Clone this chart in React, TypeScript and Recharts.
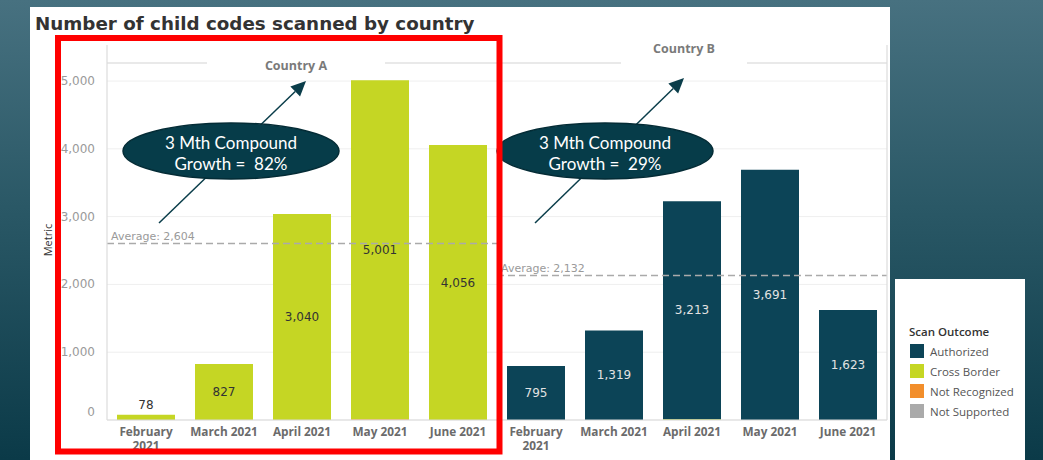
import React from 'react';
import { BarChart, Bar, XAxis, YAxis, CartesianGrid, ReferenceLine, LabelList } from 'recharts';

// ---------- data ----------
const months = ['February 2021', 'March 2021', 'April 2021', 'May 2021', 'June 2021'];
const seriesNames = ['Authorized', 'Cross Border', 'Not Recognized', 'Not Supported'];
const seriesColors = ['#0c4457', '#c5d624', '#f28e2b', '#aaaaaa'];

const countryAAuthorized = [0, 0, 0, 0, 0];
const countryACrossBorder = [78, 827, 3040, 5001, 4056];
const countryANotRecognized = [0, 0, 0, 12, 0];
const countryANotSupported = [0, 0, 0, 0, 0];

const countryBAuthorized = [795, 1319, 3213, 3691, 1623];
const countryBCrossBorder = [0, 0, 12, 0, 0];
const countryBNotRecognized = [0, 0, 0, 0, 0];
const countryBNotSupported = [0, 0, 0, 0, 0];

const countryAAverage = 2604;
const countryBAverage = 2132;
const yTicks = [0, 1000, 2000, 3000, 4000, 5000];
const yMax = 5266;

const facetNames = ['Country A', 'Country B'];
const growthA = '82%';
const growthB = '29%';

const buildRows = (a: number[], c: number[], r: number[], s: number[]) =>
  months.map((m, i) => ({
    month: m,
    'Authorized': a[i],
    'Cross Border': c[i],
    'Not Recognized': r[i],
    'Not Supported': s[i],
  }));

const dataA = buildRows(countryAAuthorized, countryACrossBorder, countryANotRecognized, countryANotSupported);
const dataB = buildRows(countryBAuthorized, countryBCrossBorder, countryBNotRecognized, countryBNotSupported);

// stacking order bottom -> top
const stackOrder = [3, 2, 1, 0];

// ---------- renderers ----------
const makeValueLabel = (fill: string) => (props: any) => {
  const { x, y, width, height, value } = props;
  if (!value) return null;
  const small = height < 22;
  const cx = x + width / 2;
  const cy = small ? y - 10 : y + height / 2;
  return (
    <text x={cx} y={cy} textAnchor="middle" dominantBaseline="central" fontSize={12}
      fontFamily="DejaVu Sans" fill={fill}>
      {Number(value).toLocaleString('en-US')}
    </text>
  );
};

const MonthTick = (props: any) => {
  const { x, y, payload } = props;
  const text: string = payload.value;
  const lines = text.length > 12 ? text.split(' ') : [text];
  return (
    <g>
      {lines.map((l, i) => (
        <text key={i} x={x} y={y + 10 + i * 14} textAnchor="middle" fontFamily="Open Sans" fontWeight={700}
          fontSize={11.8} fill="#6b6b6b">{l}</text>
      ))}
    </g>
  );
};

const YTick = (props: any) => {
  const { x, y, payload } = props;
  const v = payload.value as number;
  return (
    <text x={x} y={v === 0 ? y - 8 : y} textAnchor="end" dominantBaseline="central" fontFamily="DejaVu Sans"
      fontSize={12} fill="#9a9a9a">
      {v.toLocaleString('en-US')}
    </text>
  );
};

const AvgLabel = (text: string, lift: number) => (props: any) => {
  const { viewBox } = props;
  return (
    <text x={viewBox.x + 4} y={viewBox.y - lift} fontFamily="DejaVu Sans" fontSize={11} fill="#9a9a9a">
      {text}
    </text>
  );
};

const Facet = ({ data, labelSeries, labelColor, avg, showY, width, margin }: any) => (
  <BarChart width={width} height={460} data={data} margin={margin} barSize={58}>
    <CartesianGrid horizontal vertical={false} stroke="#efefef" />
    <XAxis dataKey="month" height={30} interval={0} tick={<MonthTick />} axisLine={{ stroke: '#d9d9d9' }}
      tickLine={false} tickMargin={0} />
    <YAxis type="number" width={showY ? 50 : 0} hide={!showY} domain={[0, yMax]} ticks={yTicks}
      tick={<YTick />} axisLine={false} tickLine={false} tickMargin={6} allowDataOverflow />
    {stackOrder.map((si) => (
      <Bar key={seriesNames[si]} dataKey={seriesNames[si]} stackId="s" fill={seriesColors[si]}
        isAnimationActive={false}>
        {seriesNames[si] === labelSeries && (
          <LabelList dataKey={seriesNames[si]} content={makeValueLabel(labelColor)} />
        )}
      </Bar>
    ))}
    <ReferenceLine y={avg} stroke="#aaaaaa" strokeWidth={1.5} strokeDasharray="7 4"
      label={AvgLabel(`Average: ${avg.toLocaleString('en-US')}`, 3.5)} />
  </BarChart>
);

const Arrow = ({ x1, y1, x2, y2 }: any) => {
  const ang = Math.atan2(y2 - y1, x2 - x1);
  const L = 15, W = 7;
  const bx = x2 - L * Math.cos(ang), by = y2 - L * Math.sin(ang);
  const px = -Math.sin(ang) * W, py = Math.cos(ang) * W;
  return (
    <g>
      <line x1={x1} y1={y1} x2={bx} y2={by} stroke="#0a3d4a" strokeWidth={1.5} />
      <polygon points={`${x2},${y2} ${bx + px},${by + py} ${bx - px},${by - py}`} fill="#0a3d4a" />
    </g>
  );
};

const Callout = ({ cx, cy, growth }: any) => (
  <g>
    <ellipse cx={cx} cy={cy} rx={108} ry={28} fill="#063c49" stroke="#042c36" strokeWidth={1.5} />
    <text x={cx} y={cy - 9} textAnchor="middle" dominantBaseline="central" fontFamily="Lato" fontSize={17} fill="#ffffff">
      3 Mth Compound
    </text>
    <text x={cx} y={cy + 12} textAnchor="middle" dominantBaseline="central" fontFamily="Lato" fontSize={17} fill="#ffffff"
      style={{ whiteSpace: 'pre' }}>
      {`Growth =  ${growth}`}
    </text>
  </g>
);

export default function App() {
  return (
    <div style={{
      position: 'absolute', left: 0, top: 0, width: 1043, height: 460, overflow: 'hidden',
      background: 'linear-gradient(180deg, #477180 0%, #2a5866 45%, #0b3a48 100%)',
    }}>
      {/* white panel */}
      <div style={{ position: 'absolute', left: 30, top: 7, width: 860, height: 453, background: '#ffffff' }} />
      <div style={{
        position: 'absolute', left: 35, top: 12, fontFamily: 'DejaVu Sans', fontWeight: 700, fontSize: 18.3,
        color: '#333333', lineHeight: '24px', whiteSpace: 'nowrap',
      }}>
        Number of child codes scanned by country
      </div>

      <div style={{ position: 'absolute', left: 0, top: 0 }}>
        <Facet data={dataA} labelSeries="Cross Border" labelColor="#333333" avg={countryAAverage} showY
          width={497} margin={{ top: 63, right: 0, bottom: 10, left: 57 }} />
      </div>
      <div style={{ position: 'absolute', left: 497, top: 0 }}>
        <Facet data={dataB} labelSeries="Authorized" labelColor="#e2e2e2" avg={countryBAverage} showY={false}
          width={390} margin={{ top: 63, right: 0, bottom: 10, left: 0 }} />
      </div>

      {/* legend */}
      <div style={{ position: 'absolute', left: 895, top: 279, width: 130, height: 181, background: '#ffffff' }}>
        <div style={{
          position: 'absolute', left: 14, top: 45, fontFamily: 'Open Sans', fontWeight: 600, fontSize: 11.5,
          color: '#333333', whiteSpace: 'nowrap',
        }}>Scan Outcome</div>
        {seriesNames.map((n, i) => (
          <div key={n} style={{ position: 'absolute', left: 15, top: 65 + i * 20, height: 14, display: 'flex', alignItems: 'center' }}>
            <div style={{ width: 14, height: 14, background: seriesColors[i] }} />
            <span style={{
              marginLeft: 6, fontFamily: 'Open Sans', fontSize: 11.5, color: '#555555', whiteSpace: 'nowrap',
            }}>{n}</span>
          </div>
        ))}
      </div>

      {/* overlay annotations */}
      <svg width={1043} height={460} style={{ position: 'absolute', left: 0, top: 0, pointerEvents: 'none' }}>
        <line x1={107} y1={63} x2={887} y2={63} stroke="#dcdcdc" strokeWidth={1.2} />
        <line x1={107} y1={45} x2={107} y2={420} stroke="#dcdcdc" strokeWidth={1.2} />
        <line x1={887} y1={45} x2={887} y2={420} stroke="#dcdcdc" strokeWidth={1.2} />
        <rect x={207} y={53} width={178} height={22} fill="#ffffff" />
        <rect x={621} y={36} width={126} height={31} fill="#ffffff" />
        <text x={296} y={65} textAnchor="middle" dominantBaseline="central" fontFamily="Open Sans" fontWeight={700}
          fontSize={12.5} fill="#7a7a7a">{facetNames[0]}</text>
        <text x={684} y={48} textAnchor="middle" dominantBaseline="central" fontFamily="Open Sans" fontWeight={700}
          fontSize={12.5} fill="#7a7a7a">{facetNames[1]}</text>
        <text x={47} y={240} textAnchor="middle" dominantBaseline="central" fontFamily="Open Sans" fontSize={11}
          fill="#333333" transform="rotate(-90 47 240)">Metric</text>

        <Arrow x1={159} y1={223} x2={306} y2={81} />
        <Arrow x1={535} y1={223} x2={684} y2={78} />
        <Callout cx={231} cy={151} growth={growthA} />
        <Callout cx={605} cy={151} growth={growthB} />

        <rect x={58} y={38} width={441.5} height={413.5} fill="none" stroke="#ff0000" strokeWidth={6} />
      </svg>
    </div>
  );
}
